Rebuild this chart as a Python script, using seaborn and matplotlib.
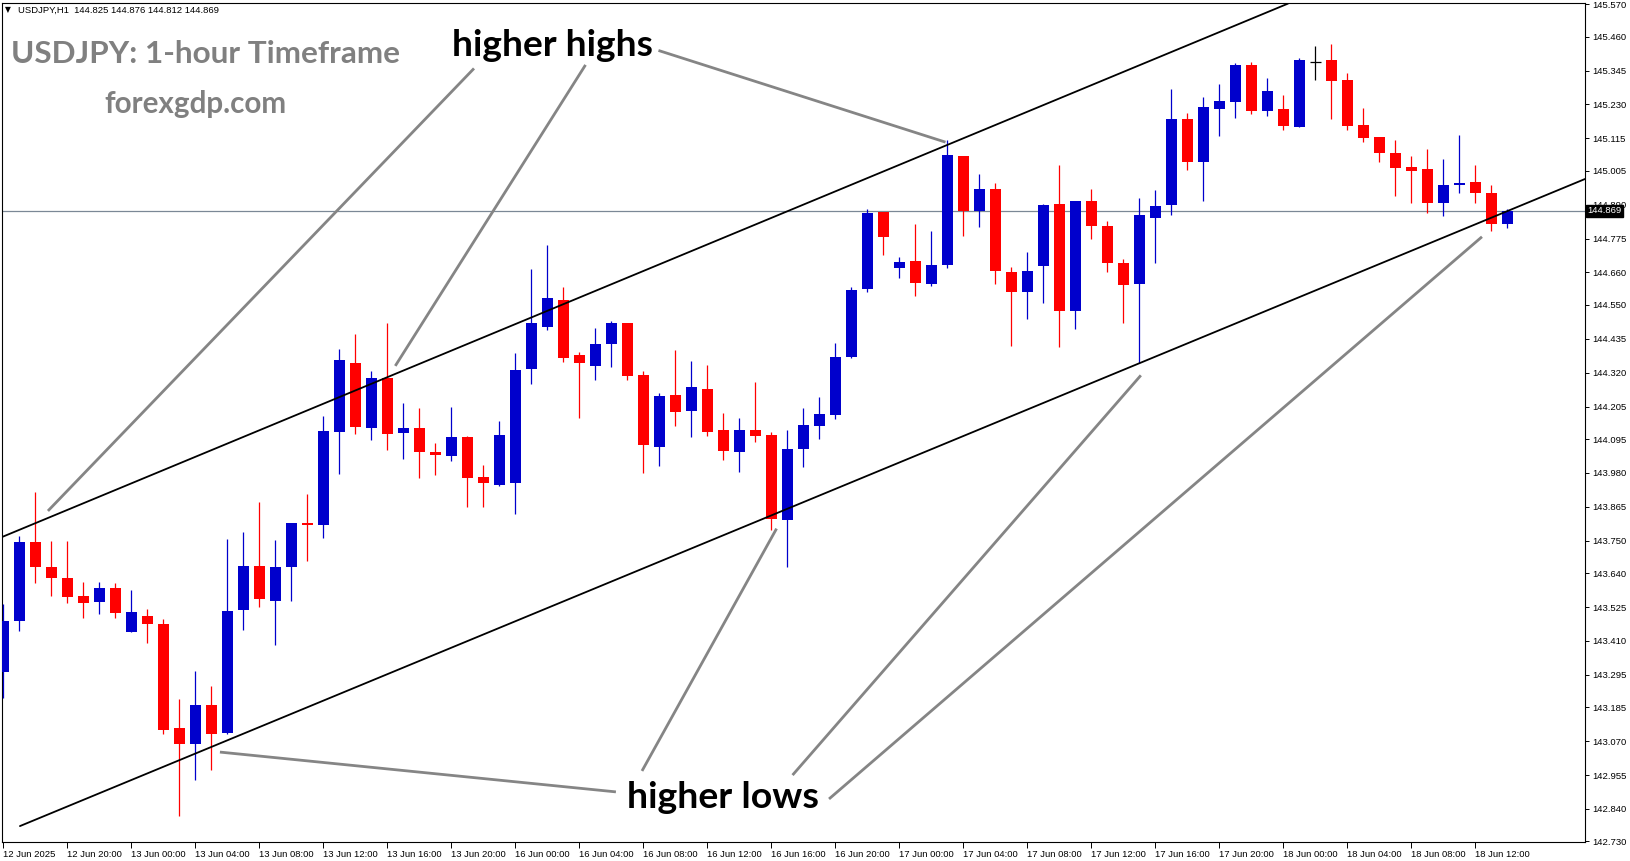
import numpy as np
import pandas as pd
import matplotlib
matplotlib.use("Agg")
import matplotlib.pyplot as plt
import matplotlib.transforms as mtransforms
import seaborn as sns

# USDJPY H1 bars, 12 Jun 16:00 -> 18 Jun 14:00
opens = [143.305, 143.477, 143.747, 143.662, 143.625, 143.564, 143.541, 143.588, 143.440, 143.496,
         143.466, 143.114, 143.061, 143.192, 143.098, 143.514, 143.665, 143.545, 143.660, 143.811,
         143.805, 144.120, 144.352, 144.133, 144.301, 144.116, 144.132, 144.051, 144.038, 144.102,
         143.966, 143.940, 143.947, 144.332, 144.474, 144.568, 144.379, 144.343, 144.417, 144.490,
         144.311, 144.069, 144.244, 144.191, 144.264, 144.125, 144.052, 144.125, 144.108, 143.819,
         144.062, 144.140, 144.177, 144.372, 144.603, 144.866, 144.674, 144.700, 144.620, 144.684,
         145.055, 144.870, 144.943, 144.663, 144.593, 144.681, 144.893, 144.529, 144.903, 144.818,
         144.693, 144.620, 144.843, 144.890, 145.180, 145.036, 145.215, 145.239, 145.363, 145.208,
         145.214, 145.154, 145.375, 145.380, 145.312, 145.160, 145.119, 145.065, 145.019, 145.012,
         144.894, 144.955, 144.968, 144.931, 144.825]
highs = [143.537, 143.767, 143.916, 143.750, 143.750, 143.611, 143.611, 143.608, 143.584, 143.517,
         143.483, 143.213, 143.307, 143.256, 143.757, 143.780, 143.882, 143.754, 143.811, 143.909,
         144.173, 144.399, 144.450, 144.325, 144.488, 144.216, 144.200, 144.081, 144.203, 144.105,
         144.007, 144.156, 144.386, 144.673, 144.752, 144.609, 144.389, 144.470, 144.494, 144.490,
         144.325, 144.250, 144.396, 144.359, 144.345, 144.183, 144.166, 144.288, 144.119, 144.125,
         144.200, 144.237, 144.419, 144.609, 144.876, 144.866, 144.713, 144.825, 144.801, 145.109,
         145.055, 144.994, 144.964, 144.677, 144.730, 144.893, 145.025, 144.903, 144.943, 144.835,
         144.707, 144.913, 144.940, 145.281, 145.200, 145.254, 145.298, 145.369, 145.373, 145.319,
         145.261, 145.386, 145.427, 145.434, 145.336, 145.217, 145.119, 145.109, 145.055, 145.080,
         145.046, 145.127, 145.026, 144.958, 144.876]
lows = [143.218, 143.443, 143.606, 143.562, 143.538, 143.487, 143.501, 143.487, 143.440, 143.403,
        143.095, 142.815, 142.940, 142.973, 143.095, 143.447, 143.524, 143.396, 143.545, 143.680,
        143.758, 143.978, 144.112, 144.092, 144.059, 144.028, 143.964, 143.974, 144.021, 143.863,
        143.866, 143.937, 143.842, 144.282, 144.464, 144.356, 144.167, 144.295, 144.339, 144.295,
        143.981, 144.005, 144.140, 144.103, 144.106, 144.025, 143.984, 144.086, 143.785, 143.662,
        144.001, 144.096, 144.163, 144.369, 144.593, 144.718, 144.640, 144.579, 144.613, 144.674,
        144.785, 144.813, 144.620, 144.409, 144.502, 144.556, 144.407, 144.468, 144.775, 144.660,
        144.488, 144.353, 144.691, 144.856, 145.009, 144.904, 145.124, 145.184, 145.198, 145.191,
        145.144, 145.154, 145.313, 145.181, 145.144, 145.103, 145.036, 144.921, 144.897, 144.860,
        144.853, 144.928, 144.897, 144.799, 144.812]
closes = [143.479, 143.747, 143.660, 143.623, 143.558, 143.538, 143.591, 143.504, 143.507, 143.467,
          143.109, 143.061, 143.192, 143.095, 143.513, 143.665, 143.552, 143.662, 143.811, 143.802,
          144.122, 144.362, 144.136, 144.301, 144.113, 144.132, 144.052, 144.042, 144.102, 143.964,
          143.947, 144.108, 144.328, 144.487, 144.575, 144.370, 144.353, 144.416, 144.487, 144.309,
          144.076, 144.240, 144.187, 144.271, 144.120, 144.055, 144.125, 144.106, 143.822, 144.061,
          144.142, 144.179, 144.372, 144.602, 144.862, 144.779, 144.697, 144.623, 144.686, 145.058,
          144.868, 144.943, 144.664, 144.593, 144.666, 144.889, 144.529, 144.903, 144.819, 144.691,
          144.616, 144.855, 144.886, 145.180, 145.036, 145.221, 145.241, 145.363, 145.208, 145.275,
          145.157, 145.380, 145.375, 145.310, 145.157, 145.117, 145.066, 145.015, 145.005, 144.894,
          144.955, 144.965, 144.928, 144.823, 144.869]

time_labels = ["12 Jun 2025", "12 Jun 20:00", "13 Jun 00:00", "13 Jun 04:00", "13 Jun 08:00",
               "13 Jun 12:00", "13 Jun 16:00", "13 Jun 20:00", "16 Jun 00:00", "16 Jun 04:00",
               "16 Jun 08:00", "16 Jun 12:00", "16 Jun 16:00", "16 Jun 20:00", "17 Jun 00:00",
               "17 Jun 04:00", "17 Jun 08:00", "17 Jun 12:00", "17 Jun 16:00", "17 Jun 20:00",
               "18 Jun 00:00", "18 Jun 04:00", "18 Jun 08:00", "18 Jun 12:00"]
price_ticks = [145.570, 145.460, 145.345, 145.230, 145.115, 145.005, 144.890, 144.775, 144.660,
               144.550, 144.435, 144.320, 144.205, 144.095, 143.980, 143.865, 143.750, 143.640,
               143.525, 143.410, 143.295, 143.185, 143.070, 142.955, 142.840, 142.730]
last_price = 144.869

# channel lines (bar index, price)
upper_x = [-0.06, 80.3]
upper_y = [143.763, 145.572]
lower_x = [1.04, 98.86]
lower_y = [142.782, 144.977]

# pointer lines for the labels (bar index, price)
highs_pointers = [[(29.42, 145.352), (2.79, 143.851)],
                  [(36.39, 145.364), (24.50, 144.343)],
                  [(40.95, 145.413), (58.89, 145.102)]]
lows_pointers = [[(38.29, 142.898), (13.54, 143.033)],
                 [(39.92, 142.969), (48.33, 143.791)],
                 [(49.33, 142.955), (71.10, 144.311)],
                 [(51.61, 142.874), (92.42, 144.781)]]

df = pd.DataFrame({"open": opens, "high": highs, "low": lows, "close": closes})
df["bar"] = np.arange(len(df))
df["color"] = np.where(df["close"] > df["open"], "#0000CC",
                       np.where(df["close"] < df["open"], "#FF0000", "black"))

sns.set_theme(style="white")
plt.rcParams["font.family"] = ["Liberation Sans", "DejaVu Sans"]

W, H = 1631, 861
fig = plt.figure(figsize=(W / 100, H / 100), dpi=100)
fig.patch.set_facecolor("white")
ax = fig.add_axes([2.5 / W, 19 / H, 1582.5 / W, 839 / H])
ax.set_facecolor("white")

# wicks, then bodies
ax.vlines(df["bar"], df["low"], df["high"], colors=df["color"], lw=0.9, zorder=3)
body_low = df[["open", "close"]].min(axis=1)
body_h = (df["close"] - df["open"]).abs()
ax.bar(df["bar"], body_h, bottom=body_low, width=0.69, color=df["color"], linewidth=0, zorder=4)
doji = df[body_h < 1e-6]
ax.hlines(doji["open"], doji["bar"] - 0.34, doji["bar"] + 0.34, colors="black", lw=0.9, zorder=4)

# channel
sns.lineplot(x=upper_x, y=upper_y, ax=ax, color="black", lw=1.3, estimator=None, sort=False, zorder=5)
sns.lineplot(x=lower_x, y=lower_y, ax=ax, color="black", lw=1.3, estimator=None, sort=False, zorder=5)

# current price line + tag
ax.axhline(last_price, color="#7b8896", lw=0.9, zorder=2)
trans = mtransforms.blended_transform_factory(ax.transAxes, ax.transData)
ax.text(1.0015, last_price, f"{last_price:.3f}", transform=trans, ha="left", va="center",
        fontsize=6.8, color="white", clip_on=False, zorder=10,
        bbox=dict(boxstyle="square,pad=0.18", fc="black", ec="black"))

for seg in highs_pointers + lows_pointers:
    (x0, y0), (x1, y1) = seg
    ax.plot([x0, x1], [y0, y1], color="#858585", lw=2.0, solid_capstyle="butt", zorder=6)

ax.set_xlim(-0.05, 98.86)
ax.set_ylim(142.728, 145.574)

# big labels, placed by their centre in pixels and scaled to the width seen
big = dict(fontweight="bold", family=["Lato", "DejaVu Sans"], va="center", ha="center")
labels = [
    ("USDJPY: 1-hour Timeframe", 205.5, 54, 389, "#808080"),
    ("forexgdp.com", 195, 104, 182, "#808080"),
    ("higher highs", 552.5, 46, 201, "black"),
    ("higher lows", 723, 798, 192, "black"),
]
renderer = fig.canvas.get_renderer()
for txt, cx, cy, wpx, col in labels:
    t = fig.text(cx / W, 1 - cy / H, txt, fontsize=22, color=col, zorder=7, **big)
    w_now = t.get_window_extent(renderer).width
    t.set_fontsize(22 * wpx / w_now)

fig.text(5 / W, 1 - 10 / H, "\u25bc", ha="left", va="center", fontsize=5.5, color="black",
         family=["DejaVu Sans"])
fig.text(18 / W, 1 - 10 / H, "USDJPY,H1  144.825 144.876 144.812 144.869", ha="left",
         va="center", fontsize=6.8, color="black")

ax.set_xticks(np.arange(0, 4 * len(time_labels), 4))
ax.set_xticklabels(time_labels)
for lbl in ax.get_xticklabels():
    lbl.set_ha("left")
ax.set_yticks(price_ticks)
ax.set_yticklabels([f"{p:.3f}" for p in price_ticks])
ax.yaxis.tick_right()
ax.tick_params(axis="x", bottom=True, length=4, width=0.7, pad=2, labelsize=6.8,
               colors="black", direction="out")
ax.tick_params(axis="y", right=True, left=False, length=3, width=0.7, pad=2, labelsize=6.8,
               colors="black", direction="out")
ax.set_xlabel("")
ax.set_ylabel("")
for s in ax.spines.values():
    s.set_color("black")
    s.set_linewidth(0.8)
ax.grid(False)

fig.savefig("out.png", dpi=100)
